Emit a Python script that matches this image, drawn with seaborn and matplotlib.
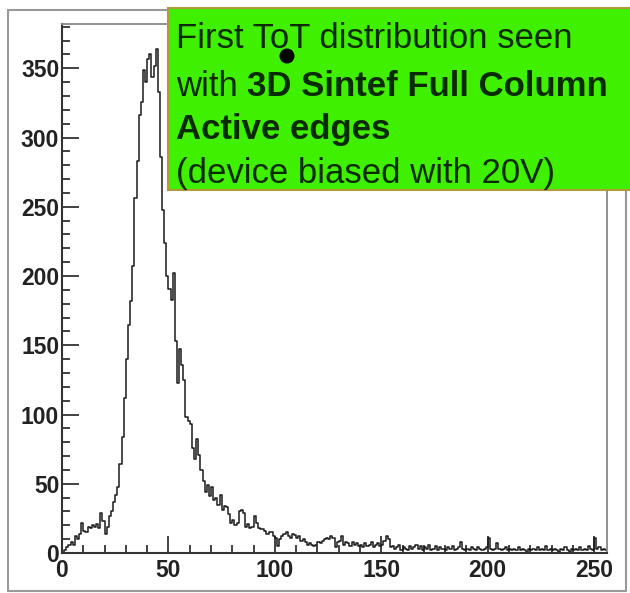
import numpy as np
import pandas as pd
import matplotlib
matplotlib.use("Agg")
import matplotlib.pyplot as plt
import seaborn as sns
from matplotlib.patches import Rectangle, Ellipse
from matplotlib.ticker import MultipleLocator

# ---- data: ToT histogram, bins of width 1 from 0 to 256 ----
counts_0_29 = [0, 2, 4, 6, 8, 6, 12, 10, 14, 22,
               16, 15, 19, 18, 20, 19, 21, 18, 29, 23,
               14, 19, 27, 30, 37, 42, 48, 64, 84, 112]
counts_30_69 = [140, 165, 182, 207, 256, 283, 316, 326, 349, 340,
                357, 360, 344, 352, 364, 333, 286, 248, 224, 200,
                191, 183, 202, 153, 123, 147, 136, 125, 98, 95,
                93, 76, 68, 82, 71, 60, 52, 44, 49, 41]
counts_70_129 = [48, 38, 40, 35, 42, 31, 34, 33, 28, 22,
                 24, 20, 22, 30, 31, 29, 19, 21, 18, 19,
                 27, 22, 18, 17, 17, 16, 14, 15, 15, 12,
                 11, 5, 10, 12, 14, 15, 12, 11, 14, 13,
                 11, 12, 9, 10, 8, 6, 7, 6, 5, 6,
                 8, 7, 9, 10, 11, 10, 12, 11, 4, 8]
counts_130_255 = [9, 12, 6, 8, 7, 5, 8, 6, 7, 5,
                  6, 4, 7, 5, 6, 8, 4, 6, 7, 5,
                  6, 9, 12, 10, 4, 5, 3, 4, 6, 2,
                  4, 3, 2, 5, 3, 4, 6, 3, 5, 2,
                  4, 3, 6, 2, 3, 5, 2, 4, 3, 3,
                  2, 4, 3, 5, 2, 3, 4, 8, 3, 2,
                  3, 2, 4, 3, 2, 4, 3, 2, 3, 4,
                  11, 3, 2, 3, 7, 3, 2, 3, 4, 2,
                  3, 2, 3, 2, 4, 2, 3, 2, 1, 3,
                  2, 3, 2, 4, 2, 3, 2, 5, 2, 3,
                  2, 3, 2, 1, 3, 2, 4, 2, 1, 3,
                  2, 3, 2, 4, 2, 3, 2, 5, 3, 2,
                  11, 3, 4, 2, 3, 2]
counts = counts_0_29 + counts_30_69 + counts_70_129 + counts_130_255
bin_left = list(range(len(counts)))
xticks = [0, 50, 100, 150, 200, 250]
yticks = [0, 50, 100, 150, 200, 250, 300, 350]
note_lines = ["First ToT distribution seen", "with", "3D Sintef Full Column",
              "Active edges", "(device biased with 20V)"]

df = pd.DataFrame({"tot": [b + 0.5 for b in bin_left], "n": counts})

W, H = 630, 593
fig = plt.figure(figsize=(W / 100, H / 100), dpi=100)
fig.patch.set_facecolor("white")
ax = fig.add_axes([62 / W, 1 - 553 / H, 545 / W, 529 / H])

sns.histplot(data=df, x="tot", weights="n", bins=len(counts), binrange=(0, len(counts)),
             element="step", fill=False, color="#1a1a1a", linewidth=1.1, ax=ax)

ax.set_xlim(0, 256)
ax.set_ylim(0, 382)
ax.set_xlabel("")
ax.set_ylabel("")
ax.set_xticks(xticks)
ax.set_yticks(yticks)
ax.xaxis.set_minor_locator(MultipleLocator(10))
ax.yaxis.set_minor_locator(MultipleLocator(10))
ax.tick_params(axis="both", which="both", direction="in", top=False, right=False,
               color="#333333", width=1.3)
ax.tick_params(axis="both", which="major", length=12)
ax.tick_params(axis="both", which="minor", length=6)
ax.tick_params(axis="x", which="major", pad=4)
ax.tick_params(axis="y", which="major", pad=2)
for lab in ax.get_xticklabels() + ax.get_yticklabels():
    lab.set_fontfamily("Liberation Sans")
    lab.set_fontweight("bold")
    lab.set_fontsize(16.5)
    lab.set_color("#222222")
for s in ["left", "bottom"]:
    ax.spines[s].set_color("#333333")
    ax.spines[s].set_linewidth(1.5)
for s in ["top", "right"]:
    ax.spines[s].set_color("#888888")
    ax.spines[s].set_linewidth(1.3)

# outer canvas frame
fig.add_artist(Rectangle((8 / W, 1 - 591 / H), 618 / W, 581 / H, transform=fig.transFigure,
                         fill=False, edgecolor="#999999", linewidth=1.5, zorder=0.5))

# green annotation box
fig.add_artist(Rectangle((168 / W, 1 - 190 / H), 470 / W, 182 / H, transform=fig.transFigure,
                         facecolor="#3ff000", edgecolor="#b09a3a", linewidth=1.5, zorder=2))
fs = 25
fam = "Liberation Sans"
col = "#0a2a00"
fig.text(176 / W, 1 - 39 / H, note_lines[0], fontsize=fs, family=fam, color=col,
         va="center", ha="left", zorder=3)
fig.text(176 / W, 1 - 86 / H, note_lines[1], fontsize=fs, family=fam, color=col,
         va="center", ha="left", zorder=3)
fig.text(247 / W, 1 - 86 / H, note_lines[2], fontsize=fs, family=fam, color=col,
         fontweight="bold", va="center", ha="left", zorder=3)
fig.text(176 / W, 1 - 129 / H, note_lines[3], fontsize=fs, family=fam, color=col,
         fontweight="bold", va="center", ha="left", zorder=3)
fig.text(176 / W, 1 - 173 / H, note_lines[4], fontsize=fs, family=fam, color=col,
         va="center", ha="left", zorder=3)

# black dot
fig.add_artist(Ellipse((287 / W, 1 - 56 / H), 15 / W, 15 / H, transform=fig.transFigure,
                       facecolor="black", edgecolor="none", zorder=4))

fig.savefig("out.png", dpi=100)
